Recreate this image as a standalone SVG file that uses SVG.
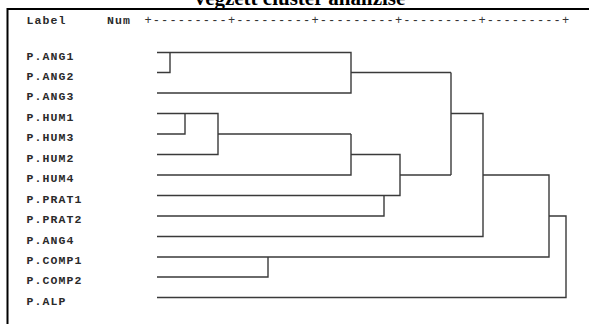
<svg xmlns="http://www.w3.org/2000/svg" width="589" height="324" viewBox="0 0 589 324">
<style>
.t{font-family:"Liberation Mono","DejaVu Sans Mono",monospace;font-size:11.5px;font-weight:bold;fill:#2a2a2a;letter-spacing:1.1px}
.r{font-family:"Liberation Mono","DejaVu Sans Mono",monospace;font-size:12px;fill:#333;letter-spacing:1.15px}
.c{fill:none;stroke:#3a3a3a;stroke-width:1.4}
</style>
<rect width="589" height="324" fill="#fff"/>
<text x="300" y="5" text-anchor="middle" font-family="'Liberation Serif','Times New Roman',serif" font-weight="bold" font-size="21" fill="#000">végzett cluster analízise</text>
<path d="M589 9 H7.5 V324" fill="none" stroke="#000" stroke-width="2"/>
<g id="header">
<text class="t" x="26.5" y="24">Label</text>
<text class="t" x="107" y="24">Num</text>
<text class="r" x="144.4" y="24">+---------+---------+---------+---------+---------+</text>
</g>
<g id="n-ang1"><text class="t" x="26.5" y="59.5">P.ANG1</text></g>
<g id="n-ang2"><text class="t" x="26.5" y="79.5">P.ANG2</text></g>
<g id="n-ang3"><text class="t" x="26.5" y="100">P.ANG3</text></g>
<g id="n-hum1"><text class="t" x="26.5" y="120.5">P.HUM1</text></g>
<g id="n-hum3"><text class="t" x="26.5" y="141">P.HUM3</text></g>
<g id="n-hum2"><text class="t" x="26.5" y="161.5">P.HUM2</text></g>
<g id="n-hum4"><text class="t" x="26.5" y="182">P.HUM4</text></g>
<g id="n-prat1"><text class="t" x="26.5" y="202.5">P.PRAT1</text></g>
<g id="n-prat2"><text class="t" x="26.5" y="223">P.PRAT2</text></g>
<g id="n-ang4"><text class="t" x="26.5" y="243.5">P.ANG4</text></g>
<g id="n-comp1"><text class="t" x="26.5" y="264">P.COMP1</text></g>
<g id="n-comp2"><text class="t" x="26.5" y="284">P.COMP2</text></g>
<g id="n-alp"><text class="t" x="26.5" y="304.5">P.ALP</text></g>
<g id="connectors" class="c">
<path d="M157 52.5 H351 V93 H157"/>
<path d="M157 72.5 H170 V52.5"/>
<path d="M351 72.5 H451"/>
<path d="M157 113.5 H218 V154.5 H157"/>
<path d="M157 134 H185 V113.5"/>
<path d="M218 134 H351"/>
<path d="M351 134 V175 H157"/>
<path d="M351 154.5 H400 V195.5 H157"/>
<path d="M157 216 H384 V195.5"/>
<path d="M400 175 H451"/>
<path d="M451 72.5 V175"/>
<path d="M451 113.5 H483 V236.5 H157"/>
<path d="M483 175 H549 V257 H157"/>
<path d="M157 277 H268 V257"/>
<path d="M549 216 H566 V297.5 H157"/>
</g>
</svg>
